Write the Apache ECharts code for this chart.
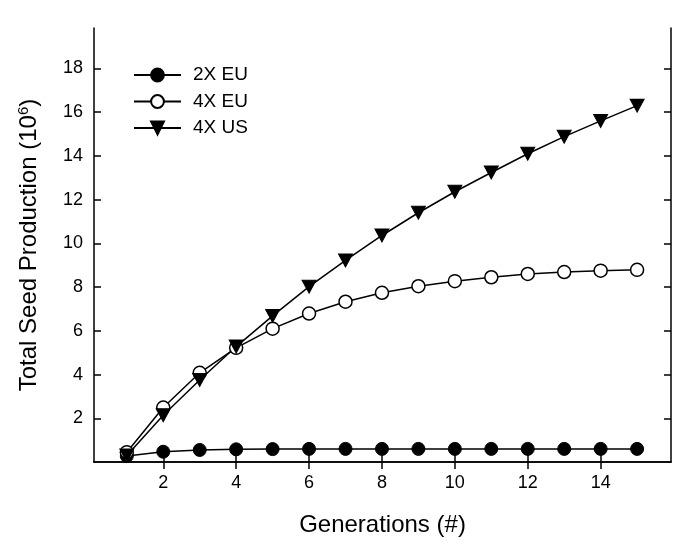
<!DOCTYPE html>
<html>
<head>
<meta charset="utf-8">
<script src="https://cdn.jsdelivr.net/npm/echarts@6/dist/echarts.min.js"></script>
<style>
  html, body { margin: 0; padding: 0; background: #fff; }
  #chart { width: 685px; height: 555px; }
</style>
</head>
<body>
<div id="chart"></div>
<script>
// data
var generations = [1, 2, 3, 4, 5, 6, 7, 8, 9, 10, 11, 12, 13, 14, 15]
var eu2x = [0.27, 0.47, 0.55, 0.58, 0.59, 0.6, 0.6, 0.6, 0.6, 0.6, 0.6, 0.6, 0.6, 0.6, 0.6]
var eu4x = [0.45, 2.49, 4.08, 5.22, 6.1, 6.79, 7.33, 7.74, 8.04, 8.27, 8.45, 8.6, 8.69, 8.75, 8.79]
var us4x = [0.3, 2.14, 3.75, 5.28, 6.68, 8.02, 9.22, 10.36, 11.4, 12.36, 13.24, 14.1, 14.88, 15.6, 16.3]
var xTicks = [2, 4, 6, 8, 10, 12, 14]
var yTicks = [2, 4, 6, 8, 10, 12, 14, 16, 18]

function pairs (ys) {
  return generations.map(function (g, i) { return [g, ys[i]] })
}

var chart = echarts.init(document.getElementById('chart'))
var font = 'Liberation Sans, Arial, sans-serif'
var black = '#000'

var frameX = {
  type: 'value',
  min: 0.1,
  max: 15.93,
  splitLine: { show: false },
  axisLine: { lineStyle: { color: black, width: 1.5 } },
  axisTick: { inside: true, length: 7, lineStyle: { color: black, width: 1.5 }, customValues: xTicks }
}
var frameY = {
  type: 'value',
  min: 0,
  max: 19.85,
  splitLine: { show: false },
  axisLine: { show: true, lineStyle: { color: black, width: 1.5 } },
  axisTick: { show: true, inside: true, length: 7, lineStyle: { color: black, width: 1.5 }, customValues: yTicks }
}

var option = {
  animation: false,
  textStyle: { fontFamily: font, color: black },
  grid: { left: 94, right: 14, top: 28, bottom: 93, containLabel: false },
  legend: {
    orient: 'vertical',
    left: 133,
    top: 65,
    padding: 0,
    itemWidth: 47,
    itemHeight: 16,
    itemGap: 6.5,
    textStyle: { fontSize: 19, lineHeight: 20, color: black, fontFamily: font, padding: [0, 0, 0, 7] },
    data: ['2X EU', '4X EU', '4X US']
  },
  xAxis: [
    Object.assign({}, frameX, {
      position: 'bottom',
      name: 'Generations (#)',
      nameLocation: 'middle',
      nameGap: 51,
      nameTextStyle: { fontSize: 24, color: black, fontFamily: font },
      axisLabel: { fontSize: 18, color: black, margin: 12, customValues: xTicks }
    }),
    Object.assign({}, frameX, { position: 'top', axisLabel: { show: false } })
  ],
  yAxis: [
    Object.assign({}, frameY, {
      position: 'left',
      name: '{a|Total Seed Production (10}{s|6}{a|)}',
      nameLocation: 'middle',
      nameGap: 51,
      nameRotate: 90,
      nameTextStyle: {
        rich: {
          a: { fontSize: 24, color: black, fontFamily: font },
          s: { fontSize: 15, color: black, fontFamily: font, padding: [0, 0, 12, 0] }
        }
      },
      axisLabel: { fontSize: 18, color: black, margin: 11, customValues: yTicks }
    }),
    Object.assign({}, frameY, { position: 'right', axisLabel: { show: false } })
  ],
  series: [
    {
      name: '2X EU',
      type: 'line',
      data: pairs(eu2x),
      symbol: 'circle',
      symbolSize: 13,
      showAllSymbol: true,
      lineStyle: { color: black, width: 1.5 },
      itemStyle: { color: black, borderColor: black, borderWidth: 1 }
    },
    {
      name: '4X EU',
      type: 'line',
      data: pairs(eu4x),
      symbol: 'circle',
      symbolSize: 13,
      showAllSymbol: true,
      lineStyle: { color: black, width: 1.5 },
      itemStyle: { color: '#fff', borderColor: black, borderWidth: 1.5 }
    },
    {
      name: '4X US',
      type: 'line',
      data: pairs(us4x),
      symbol: 'triangle',
      symbolRotate: 180,
      symbolSize: [14, 13],
      showAllSymbol: true,
      lineStyle: { color: black, width: 1.5 },
      itemStyle: { color: black, borderColor: black, borderWidth: 1 }
    }
  ]
}
chart.setOption(option)
</script>
</body>
</html>
